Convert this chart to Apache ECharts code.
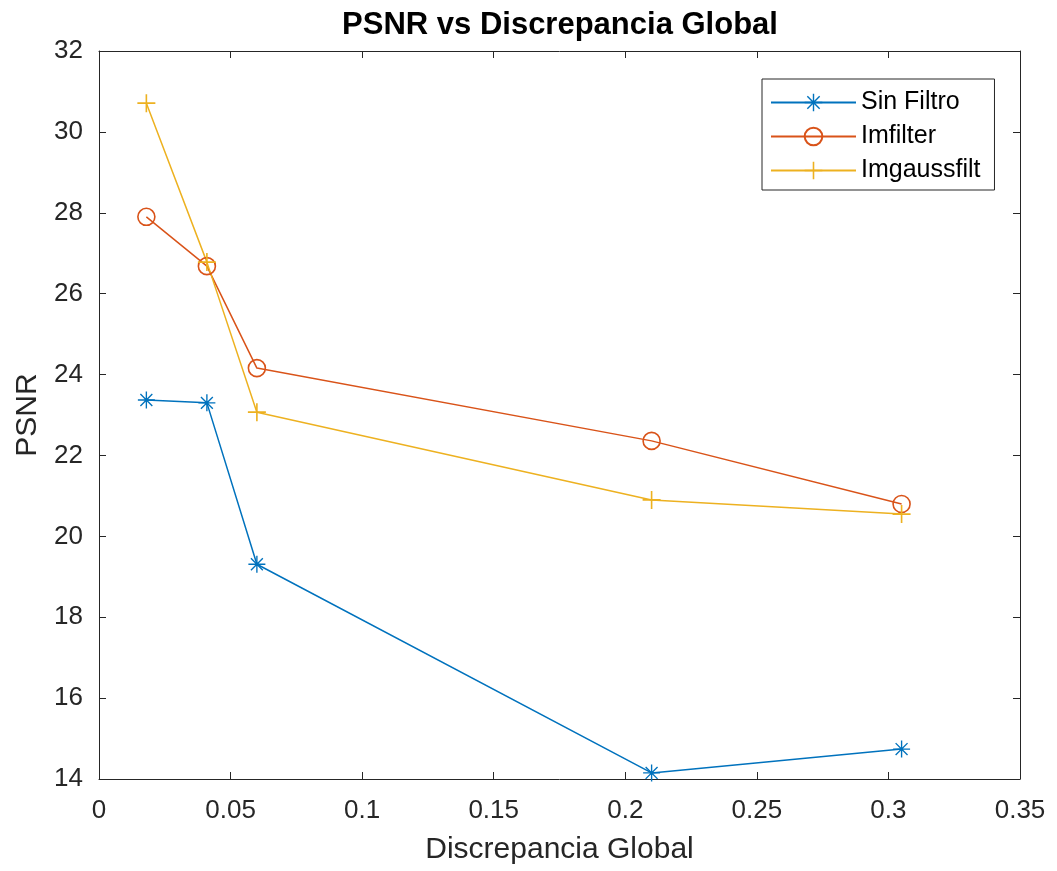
<!DOCTYPE html>
<html>
<head>
<meta charset="utf-8">
<title>PSNR vs Discrepancia Global</title>
<script src="https://cdn.jsdelivr.net/npm/echarts@6/dist/echarts.min.js"></script>
<style>
  html, body { margin: 0; padding: 0; background: #fff; }
  #chart { width: 1057px; height: 871px; }
</style>
</head>
<body>
<div id="chart"></div>
<script>
// datos
var discrepancia = [0.018, 0.041, 0.060, 0.210, 0.305];
var sinFiltro    = [23.37, 23.30, 19.31, 14.15, 14.74];
var imfilter     = [27.90, 26.68, 24.16, 22.36, 20.80];
var imgaussfilt  = [30.71, 26.78, 23.07, 20.90, 20.55];
var seriesNames  = ['Sin Filtro', 'Imfilter', 'Imgaussfilt'];

var colors = ['#0072BD', '#D95319', '#EDB120'];
var fontFam = '"Liberation Sans", Arial, Helvetica, sans-serif';
var axisColor = '#262626';

// marcadores estilo matlab
var asterisco = 'path://M0 9.2H20V10.8H0Z M9.2 0H10.8V20H9.2Z ' +
    'M3.566 2.434L17.566 16.434L16.434 17.566L2.434 3.566Z ' +
    'M17.566 3.566L3.566 17.566L2.434 16.434L16.434 2.434Z';
var cruz = 'path://M0 9.1H20V10.9H0Z M9.1 0H10.9V20H9.1Z';

function pares(ys) {
    var out = [];
    for (var i = 0; i < ys.length; i++) {
        out.push([discrepancia[i], ys[i]]);
    }
    return out;
}

// eje con caja estilo matlab: marcas hacia dentro, sin onZero
function ejeBase(extra, margen) {
    var o = {
        axisLine: { show: true, onZero: false, lineStyle: { color: axisColor, width: 1 } },
        axisTick: { show: true, inside: true, length: 7, lineStyle: { color: axisColor, width: 1 } },
        splitLine: { show: false },
        axisLabel: { color: axisColor, fontSize: 26, fontFamily: fontFam, margin: margen }
    };
    for (var k in extra) o[k] = extra[k];
    return o;
}

var chart = echarts.init(document.getElementById('chart'));

var option = {
    animation: false,
    backgroundColor: '#fff',
    title: {
        text: 'PSNR vs Discrepancia Global',
        left: 555,
        textAlign: 'center',
        top: 5,
        textStyle: { color: '#000', fontSize: 31, fontWeight: 'bold', fontFamily: fontFam }
    },
    grid: { left: 99, right: 37, top: 51, bottom: 92, containLabel: false },
    legend: {
        data: seriesNames,
        orient: 'vertical',
        left: 762,
        top: 79,
        width: 231,
        padding: [11, 14, 7, 8],
        itemWidth: 85,
        itemHeight: 22,
        itemGap: 9,
        borderColor: axisColor,
        borderWidth: 1,
        backgroundColor: '#fff',
        textStyle: { color: '#000', fontSize: 25, fontFamily: fontFam }
    },
    xAxis: [
        ejeBase({
            type: 'value', min: 0, max: 0.35, interval: 0.05, position: 'bottom',
            name: 'Discrepancia Global', nameLocation: 'middle', nameGap: 56,
            nameTextStyle: { color: axisColor, fontSize: 30, fontFamily: fontFam }
        }, 19),
        ejeBase({
            type: 'value', min: 0, max: 0.35, interval: 0.05, position: 'top',
            axisLabel: { show: false }
        }, 8)
    ],
    yAxis: [
        ejeBase({
            type: 'value', min: 14, max: 32, interval: 2, position: 'left',
            name: 'PSNR', nameLocation: 'middle', nameGap: 55,
            nameTextStyle: { color: axisColor, fontSize: 30, fontFamily: fontFam }
        }, 16),
        ejeBase({
            type: 'value', min: 14, max: 32, interval: 2, position: 'right',
            axisLabel: { show: false }
        }, 8)
    ],
    series: [
        {
            name: seriesNames[0], type: 'line', data: pares(sinFiltro),
            symbol: asterisco, symbolSize: 17,
            lineStyle: { color: colors[0], width: 1.5 },
            itemStyle: { color: colors[0] }
        },
        {
            name: seriesNames[1], type: 'line', data: pares(imfilter),
            symbol: 'circle', symbolSize: 17,
            lineStyle: { color: colors[1], width: 1.5 },
            itemStyle: { color: 'rgba(0,0,0,0)', borderColor: colors[1], borderWidth: 1.6 }
        },
        {
            name: seriesNames[2], type: 'line', data: pares(imgaussfilt),
            symbol: cruz, symbolSize: 18,
            lineStyle: { color: colors[2], width: 1.5 },
            itemStyle: { color: colors[2] }
        }
    ]
};

chart.setOption(option);
</script>
</body>
</html>
